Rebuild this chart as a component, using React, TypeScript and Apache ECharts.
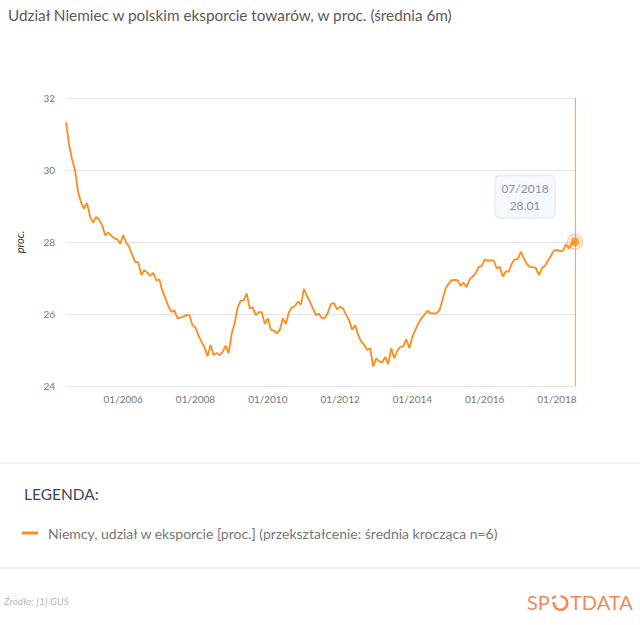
import React, { useEffect, useRef } from "react";
import * as echarts from "echarts";

const TITLE = "Udział Niemiec w polskim eksporcie towarów, w proc. (średnia 6m)";
const SERIES_NAME = "Niemcy, udział w eksporcie [proc.] (przekształcenie: średnia krocząca n=6)";
const START_YEAR = 2004;
const START_MONTH = 6;

// monthly values 06/2004 .. 07/2018 (6m moving average)
const values: number[] = [
  31.32, 30.72, 30.3, 30.0, 29.4, 29.1, 28.93, 29.08, 28.7, 28.54,
  28.7, 28.62, 28.47, 28.18, 28.26, 28.18, 28.1, 28.08, 27.95, 28.19,
  27.98, 27.86, 27.64, 27.44, 27.44, 27.08, 27.22, 27.15, 27.06, 27.14,
  26.93, 26.96, 26.64, 26.44, 26.22, 26.06, 26.1, 25.88, 25.9, 25.93,
  25.97, 25.96, 25.69, 25.62, 25.4, 25.23, 25.08, 24.83, 25.14, 24.86,
  24.92, 24.86, 24.95, 25.12, 24.91, 25.45, 25.74, 26.18, 26.37, 26.38,
  26.57, 26.15, 26.19, 25.97, 26.05, 26.05, 25.73, 25.88, 25.57, 25.54,
  25.46, 25.56, 25.88, 25.72, 26.05, 26.18, 26.22, 26.34, 26.26, 26.7,
  26.5, 26.34, 26.15, 25.97, 26.01, 25.88, 25.89, 26.05, 26.28, 26.3,
  26.13, 26.2, 26.16, 25.97, 25.83, 25.56, 25.69, 25.42, 25.23, 25.14,
  25.0, 25.05, 24.54, 24.77, 24.68, 24.66, 24.81, 24.61, 25.05, 24.77,
  24.98, 25.09, 25.11, 25.3, 25.05, 25.37, 25.56, 25.74, 25.88, 25.98,
  26.09, 26.02, 26.02, 26.02, 26.1, 26.39, 26.7, 26.84, 26.94, 26.95,
  26.94, 26.78, 26.87, 26.74, 26.96, 27.04, 27.13, 27.31, 27.33, 27.52,
  27.48, 27.49, 27.48, 27.27, 27.31, 27.04, 27.18, 27.18, 27.4, 27.52,
  27.52, 27.73, 27.55, 27.39, 27.31, 27.3, 27.28, 27.08, 27.27, 27.34,
  27.48, 27.62, 27.76, 27.78, 27.74, 27.76, 27.94, 27.82, 27.96, 28.01,
];

const categories: string[] = values.map((_, i) => {
  const m0 = START_MONTH - 1 + i;
  const y = START_YEAR + Math.floor(m0 / 12);
  const m = (m0 % 12) + 1;
  return (m < 10 ? "0" : "") + m + "/" + y;
});

const Y_MIN = 24;
const Y_MAX = 32;
const Y_INTERVAL = 2;

const ORANGE = "#ff8c1a";
const LOGO = "#f08a5d";
const FONT = "Lato, 'Open Sans', sans-serif";

export default function App() {
  const ref = useRef<HTMLDivElement>(null);

  useEffect(() => {
    document.body.style.margin = "0";
    if (!ref.current) return;
    const chart = echarts.init(ref.current, null, { renderer: "svg" });
    const lastIdx = values.length - 1;
    const lastVal = values[lastIdx];
    const lastCat = categories[lastIdx];

    chart.setOption({
      animation: false,
      backgroundColor: "#ffffff",
      textStyle: { fontFamily: FONT },
      title: [
        {
          text: TITLE,
          left: 8,
          top: 7,
          padding: 0,
          textStyle: { fontSize: 15.3, fontWeight: "normal", color: "#5a5a5a", fontFamily: FONT },
        },
        {
          text: "LEGENDA:",
          left: 24,
          top: 486,
          padding: 0,
          textStyle: { fontSize: 15.5, fontWeight: "normal", color: "#3b4757", fontFamily: FONT },
        },
        {
          text: "Źródło: [1] GUS",
          left: 4,
          top: 596,
          padding: 0,
          textStyle: { fontSize: 10, fontStyle: "italic", fontWeight: "normal", color: "#b8b8b8", fontFamily: FONT },
        },
      ],
      legend: {
        left: 22,
        top: 526,
        padding: 0,
        data: [{ name: SERIES_NAME, icon: "rect" }],
        itemWidth: 16,
        itemHeight: 3,
        itemGap: 10,
        textStyle: { fontSize: 14, color: "#777777", fontFamily: FONT, padding: [0, 0, 0, 5] },
        selectedMode: false,
      },
      grid: { left: 66, right: 65, top: 98, bottom: 239, containLabel: false },
      xAxis: {
        type: "category",
        data: categories,
        boundaryGap: false,
        axisLine: { show: false },
        axisTick: { show: false },
        splitLine: { show: false },
        axisLabel: {
          color: "#777777",
          fontSize: 10,
          fontFamily: FONT,
          margin: 8,
          interval: (_i: number, v: string) =>
            v.startsWith("01/") && parseInt(v.slice(3), 10) % 2 === 0,
        },
      },
      yAxis: {
        type: "value",
        min: Y_MIN,
        max: Y_MAX,
        interval: Y_INTERVAL,
        name: "proc.",
        nameLocation: "middle",
        nameGap: 41,
        nameTextStyle: { fontStyle: "italic", fontSize: 11, color: "#333333", fontFamily: FONT },
        axisLine: { show: false },
        axisTick: { show: false },
        axisLabel: { color: "#777777", fontSize: 10, fontFamily: FONT, margin: 11 },
        splitLine: { lineStyle: { color: "#e3e3e3", width: 1 } },
      },
      series: [
        {
          name: SERIES_NAME,
          type: "line",
          data: values,
          showSymbol: false,
          symbol: "none",
          color: ORANGE,
          lineStyle: { color: ORANGE, width: 1.8 },
          markLine: {
            silent: true,
            symbol: ["none", "none"],
            label: { show: false },
            lineStyle: { color: "#f5a084", width: 1.2, type: "solid", opacity: 1 },
            data: [{ xAxis: lastCat }],
          },
          z: 3,
        },
        {
          name: "ring",
          type: "scatter",
          data: [[lastCat, lastVal]],
          symbol: "circle",
          symbolSize: 15,
          itemStyle: { color: "rgba(255,140,26,0.12)", borderColor: "rgba(255,140,26,0.7)", borderWidth: 1 },
          silent: true,
          z: 4,
        },
        {
          name: "last",
          type: "scatter",
          data: [[lastCat, lastVal]],
          symbol: "circle",
          symbolSize: 9,
          itemStyle: { color: ORANGE },
          silent: true,
          z: 5,
          label: {
            show: true,
            position: "inside",
            offset: [-50, -45],
            formatter: () => lastCat + "\n" + lastVal.toFixed(2),
            color: "#6b7280",
            fontSize: 12,
            lineHeight: 17,
            fontFamily: FONT,
            align: "center",
            backgroundColor: "#f4f7fb",
            borderColor: "#d9e3ef",
            borderWidth: 1,
            borderRadius: 4,
            padding: [4, 6],
          },
        },
      ],
      graphic: [
        {
          type: "line",
          shape: { x1: 0, y1: 463, x2: 640, y2: 463 },
          style: { stroke: "#ececec", lineWidth: 1.5 },
        },
        {
          type: "line",
          shape: { x1: 0, y1: 568, x2: 640, y2: 568 },
          style: { stroke: "#ececec", lineWidth: 1.5 },
        },
        {
          type: "group",
          children: [
            {
              type: "text",
              x: 527,
              y: 602,
              style: { text: "SP", fill: LOGO, fontSize: 20, fontFamily: FONT, verticalAlign: "middle", align: "left" },
            },
            {
              type: "arc",
              shape: { cx: 560.5, cy: 603, r: 6.8, startAngle: -Math.PI * 0.5, endAngle: Math.PI * 1.05, clockwise: true },
              style: { stroke: LOGO, lineWidth: 2.6, fill: "none" },
            },
            {
              type: "line",
              shape: { x1: 552, y1: 598.5, x2: 556, y2: 596 },
              style: { stroke: LOGO, lineWidth: 2.4 },
            },
            {
              type: "text",
              x: 570,
              y: 602,
              style: { text: "TDATA", fill: LOGO, fontSize: 20, fontFamily: FONT, verticalAlign: "middle", align: "left" },
            },
          ],
        },
      ],
    });

    return () => chart.dispose();
  }, []);

  return (
    <div
      ref={ref}
      style={{ position: "absolute", left: 0, top: 0, width: 640, height: 625, background: "#fff" }}
    />
  );
}
